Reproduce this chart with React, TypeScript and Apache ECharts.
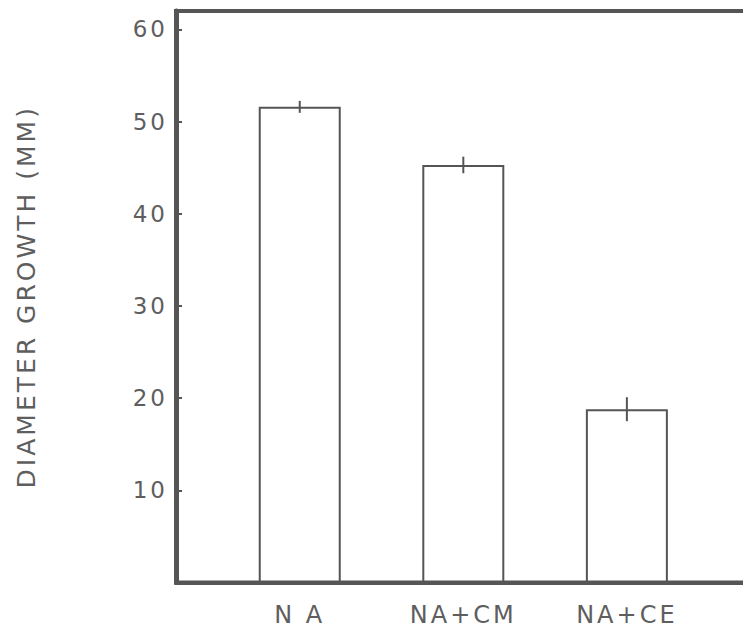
import React, { useEffect, useRef } from "react";
import * as echarts from "echarts";

const categories = ["N A", "NA+CM", "NA+CE"];
const positions = [1, 2, 3];
const means = [51.6, 45.3, 18.8];
const errors = [0.65, 0.9, 1.3];
const yTicks = [10, 20, 30, 40, 50, 60];

export default function App() {
  const ref = useRef<HTMLDivElement>(null);
  useEffect(() => {
    if (!ref.current) return;
    const chart = echarts.init(ref.current, undefined, { renderer: "svg" });
    const ink = "#555";
    const textInk = "#5e5e5e";
    const font = "DejaVu Sans";
    chart.setOption({
      animation: false,
      backgroundColor: "#ffffff",
      grid: {
        left: 176,
        top: 11,
        width: 607,
        height: 571.5,
        outerBoundsMode: "none",
        show: true,
        borderColor: ink,
        borderWidth: 4,
        backgroundColor: "transparent",
      },
      xAxis: {
        type: "value",
        min: 0.2435,
        max: 3.9545,
        z: 5,
        splitLine: { show: false },
        axisLine: { show: true, lineStyle: { color: ink, width: 4 } },
        axisTick: { show: false },
        axisLabel: {
          customValues: positions,
          formatter: (v: number) => categories[Math.round(v) - 1] ?? "",
          color: textInk,
          fontFamily: font,
          fontSize: 24,
          margin: 20,
        },
      },
      yAxis: {
        type: "value",
        min: 0,
        max: 62,
        interval: 10,
        z: 5,
        name: "DIAMETER GROWTH (MM)",
        nameLocation: "middle",
        nameGap: 137,
        nameTextStyle: { color: textInk, fontFamily: font, fontSize: 25 },
        splitLine: { show: false },
        axisLine: { show: true, lineStyle: { color: ink, width: 5 } },
        axisTick: {
          show: true,
          inside: true,
          length: 6,
          customValues: yTicks,
          lineStyle: { color: ink, width: 2 },
        },
        axisLabel: {
          customValues: yTicks,
          formatter: (v: number) => (yTicks.includes(v) ? String(v) : ""),
          color: textInk,
          fontFamily: font,
          fontSize: 23,
          margin: 8,
        },
      },
      series: [
        {
          type: "bar",
          barWidth: 82,
          data: positions.map((p, i) => [p, means[i]]),
          itemStyle: { color: "#ffffff", borderColor: ink, borderWidth: 2 },
          z: 2,
        },
        {
          type: "custom",
          z: 4,
          data: positions.map((p, i) => [p, means[i], errors[i]]),
          renderItem: (params: any, api: any) => {
            const x = api.value(0);
            const y = api.value(1);
            const e = api.value(2);
            const p1 = api.coord([x, y - e]);
            const p2 = api.coord([x, y + e]);
            return {
              type: "line",
              shape: { x1: p1[0], y1: p1[1], x2: p2[0], y2: p2[1] },
              style: { stroke: ink, lineWidth: 2 },
            };
          },
        },
      ],
    });
    return () => chart.dispose();
  }, []);
  return (
    <div
      style={{ position: "fixed", left: 0, top: 0, width: 743, height: 631, overflow: "hidden", background: "#fff" }}
    >
      <style>{"#chartroot text{letter-spacing:3px}"}</style>
      <div id="chartroot" ref={ref} style={{ width: 800, height: 631 }} />
    </div>
  );
}
